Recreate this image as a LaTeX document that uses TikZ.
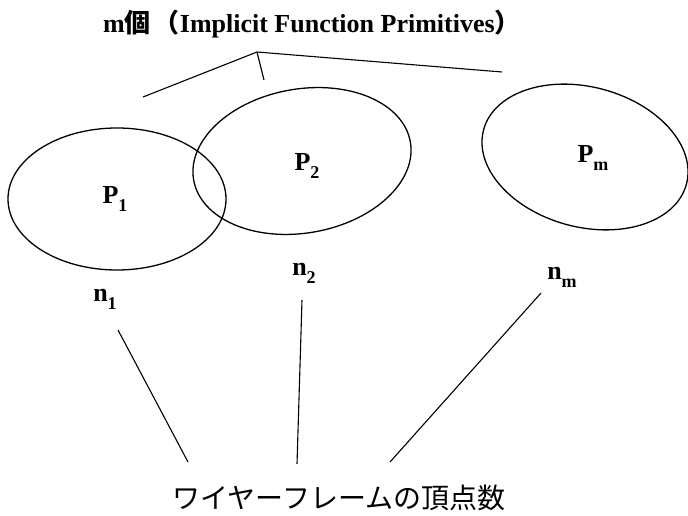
\documentclass[tikz,border=0pt]{standalone}
\usepackage{fontspec}
\setmainfont{Liberation Serif}
\newfontfamily\cjk{Noto Sans CJK JP}
\usetikzlibrary{shapes.geometric}
\begin{document}
\begin{tikzpicture}[x=1pt,y=-1pt,
  lbl/.style={font=\fontsize{26}{28}\selectfont\bfseries, inner sep=0pt},
  prim/.style={draw, ellipse, line width=1.3pt, inner sep=0pt},
  conn/.style={line width=1.1pt}]
\useasboundingbox (0,0) rectangle (688,516);
% title
\node[inner sep=0pt, font=\fontsize{26}{28}\selectfont\bfseries] (title) at (312,24)
  {m{\cjk\bfseries 個}\hspace{3pt}{\cjk （}Implicit Function Primitives{\cjk ）}};
% top connector
\coordinate (apex) at (257,52);
\coordinate (tl) at (143,97);
\coordinate (tr) at (502,72);
\coordinate (tm) at (264,80);
\draw[conn] (tl) -- (apex) -- (tr);
\draw[conn] (apex) -- (tm);
% ellipses
\node[prim, minimum width=218pt, minimum height=142pt] (E1) at (117,199) {};
\node[prim, minimum width=220pt, minimum height=144pt, rotate=10] (E2) at (302,161) {};
\node[prim, minimum width=210pt, minimum height=140pt, rotate=-15] (Em) at (585,157) {};
% labels
\node[lbl] (P1) at (115,199) {P\raisebox{-0.3em}{\fontsize{18}{19}\selectfont 1}};
\node[lbl] (P2) at (307,166) {P\raisebox{-0.3em}{\fontsize{18}{19}\selectfont 2}};
\node[lbl] (Pm) at (593,158) {P\raisebox{-0.3em}{\fontsize{18}{19}\selectfont m}};
\node[lbl] (n1) at (105,299) {n\raisebox{-0.3em}{\fontsize{18}{19}\selectfont 1}};
\node[lbl] (n2) at (304,273) {n\raisebox{-0.3em}{\fontsize{18}{19}\selectfont 2}};
\node[lbl] (nm) at (562,277) {n\raisebox{-0.3em}{\fontsize{18}{19}\selectfont m}};
% bottom text
\node[inner sep=0pt, font=\cjk\fontsize{28}{30}\selectfont] (wf) at (339,498) {ワイヤーフレームの頂点数};
% lower connectors
\coordinate (a1) at (118,330); \coordinate (b1) at (188,462);
\coordinate (a2) at (302,300); \coordinate (b2) at (297,464);
\coordinate (a3) at (541,293); \coordinate (b3) at (390,462);
\draw[conn] (a1) -- (b1);
\draw[conn] (a2) -- (b2);
\draw[conn] (a3) -- (b3);
\end{tikzpicture}
\end{document}
